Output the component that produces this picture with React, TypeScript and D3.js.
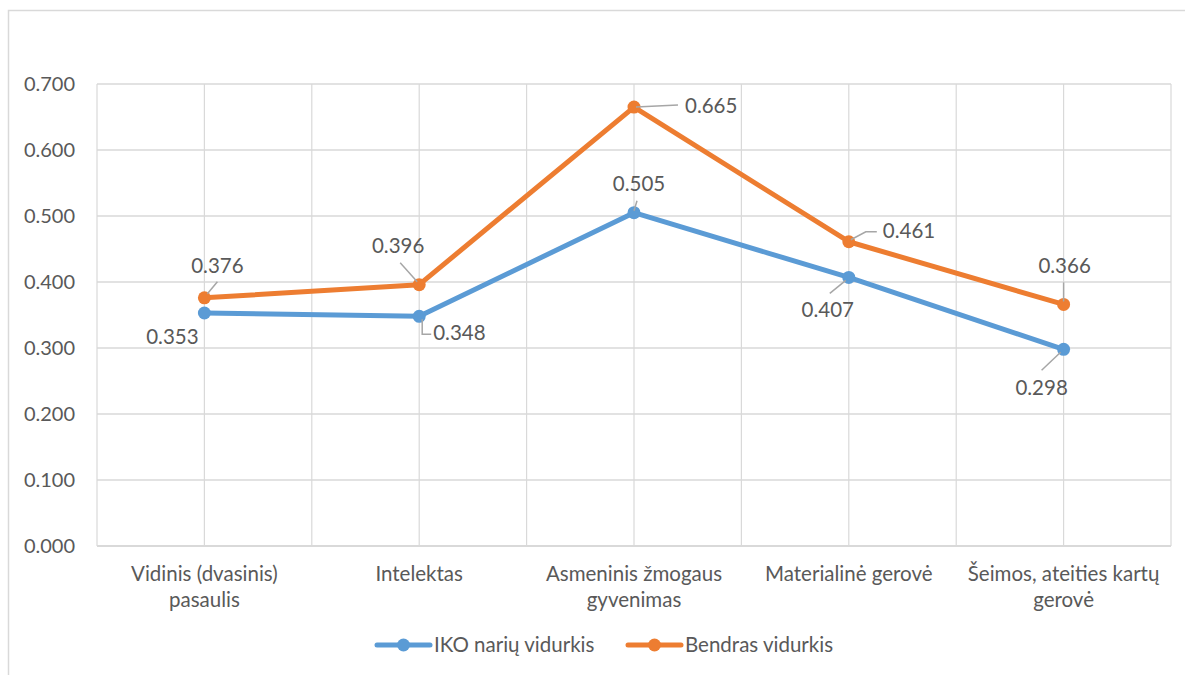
import React from "react";
import * as d3 from "d3";

const categories = [
  ["Vidinis (dvasinis)", "pasaulis"],
  ["Intelektas"],
  ["Asmeninis žmogaus", "gyvenimas"],
  ["Materialinė gerovė"],
  ["Šeimos, ateities kartų", "gerovė"],
];
const ikoValues = [0.353, 0.348, 0.505, 0.407, 0.298];
const bendrasValues = [0.376, 0.396, 0.665, 0.461, 0.366];
const yTicks = [0, 0.1, 0.2, 0.3, 0.4, 0.5, 0.6, 0.7];
const seriesNames = ["IKO narių vidurkis", "Bendras vidurkis"];

// label layout: [dx, dy of label center, anchor, leader path points relative to point]
type LabelLayout = { dx: number; dy: number; anchor: string; leader: [number, number][] | null };
const ikoLabels: LabelLayout[] = [
  { dx: -32, dy: 24, anchor: "middle", leader: null },
  { dx: 14, dy: 17, anchor: "start", leader: [[3, 3], [3, 18], [12, 18]] },
  { dx: 5, dy: -29, anchor: "middle", leader: [[3, -12], [0, -2]] },
  { dx: -21, dy: 33, anchor: "middle", leader: [[-3, 3], [-19, 16]] },
  { dx: -22, dy: 39, anchor: "middle", leader: [[-3, 3], [-22, 21]] },
];
const bendrasLabels: LabelLayout[] = [
  { dx: 13, dy: -32, anchor: "middle", leader: [[3, -4], [13, -16]] },
  { dx: -21, dy: -39, anchor: "middle", leader: [[-2, -3], [-19, -22]] },
  { dx: 51, dy: -1, anchor: "start", leader: [[2, 0], [44, -2]] },
  { dx: 34, dy: -11, anchor: "start", leader: [[2, -2], [17, -10], [28, -10]] },
  { dx: 1, dy: -38, anchor: "middle", leader: [[0, -3], [0, -22]] },
];

const W = 1185;
const H = 675;
const FONT = "Lato, 'Open Sans', sans-serif";
const FS = 20.5;
const TEXT = "#595959";
const GRID = "#D9D9D9";
const BLUE = "#5B9BD5";
const ORANGE = "#ED7D31";

export default function App() {
  const left = 97, right = 1171, top = 84, bottom = 546;
  const x = d3.scalePoint<number>().domain(d3.range(categories.length)).range([left, right]).padding(0.5);
  const y = d3.scaleLinear().domain([0, 0.7]).range([bottom, top]);
  const step = x.step();
  const vLines = d3.range(categories.length * 2 + 1).map((i) => left + (i * step) / 2);
  const line = d3.line<number>().x((_, i) => x(i)!).y((d) => y(d));
  const fmt = d3.format(".3f");

  const series = [
    { values: ikoValues, color: BLUE, labels: ikoLabels },
    { values: bendrasValues, color: ORANGE, labels: bendrasLabels },
  ];

  return (
    <svg width={W} height={H} style={{ position: "absolute", left: 0, top: 0, fontFamily: FONT }}>
      <rect x={0} y={0} width={W} height={H} fill="#fff" />
      <rect x={8.5} y={10.5} width={1200} height={700} fill="#fff" stroke={GRID} strokeWidth={1.5} />
      {yTicks.map((t) => (
        <g key={t}>
          <line x1={left} x2={right} y1={y(t)} y2={y(t)} stroke={GRID} strokeWidth={1.5} />
          <text x={75} y={y(t) + 7} textAnchor="end" fontSize={20} fill={TEXT}>
            {fmt(t)}
          </text>
        </g>
      ))}
      {vLines.map((v, i) => (
        <line key={i} x1={v} x2={v} y1={top} y2={bottom} stroke={GRID} strokeWidth={1.2} />
      ))}
      <line x1={left} x2={right} y1={bottom} y2={bottom} stroke={GRID} strokeWidth={2} />
      {categories.map((lines, i) => (
        <text key={i} x={x(i)} textAnchor="middle" fontSize={FS} fill={TEXT}>
          {lines.map((l, j) => (
            <tspan key={j} x={x(i)} y={581 + j * 26}>
              {l}
            </tspan>
          ))}
        </text>
      ))}
      {series.map((s, si) => (
        <g key={si}>
          <path d={line(s.values)!} fill="none" stroke={s.color} strokeWidth={5} strokeLinejoin="round" />
          {s.values.map((v, i) => (
            <circle key={i} cx={x(i)} cy={y(v)} r={6.5} fill={s.color} />
          ))}
        </g>
      ))}
      {series.map((s, si) =>
        s.values.map((v, i) => {
          const px = x(i)!;
          const py = y(v);
          const L = s.labels[i];
          return (
            <g key={`${si}-${i}`}>
              {L.leader && (
                <polyline
                  points={L.leader.map(([a, b]) => `${px + a},${py + b}`).join(" ")}
                  fill="none"
                  stroke="#A6A6A6"
                  strokeWidth={1.5}
                />
              )}
              <text x={px + L.dx} y={py + L.dy + 7} textAnchor={L.anchor as any} fontSize={FS} fill={TEXT}>
                {fmt(v)}
              </text>
            </g>
          );
        })
      )}
      {[
        { x0: 377, color: BLUE, name: seriesNames[0] },
        { x0: 628, color: ORANGE, name: seriesNames[1] },
      ].map((l, i) => (
        <g key={i}>
          <line x1={l.x0} x2={l.x0 + 53} y1={645} y2={645} stroke={l.color} strokeWidth={5} strokeLinecap="round" />
          <circle cx={l.x0 + 26.5} cy={645} r={6.5} fill={l.color} />
          <text x={l.x0 + 57} y={652} fontSize={FS} fill={TEXT}>
            {l.name}
          </text>
        </g>
      ))}
    </svg>
  );
}
